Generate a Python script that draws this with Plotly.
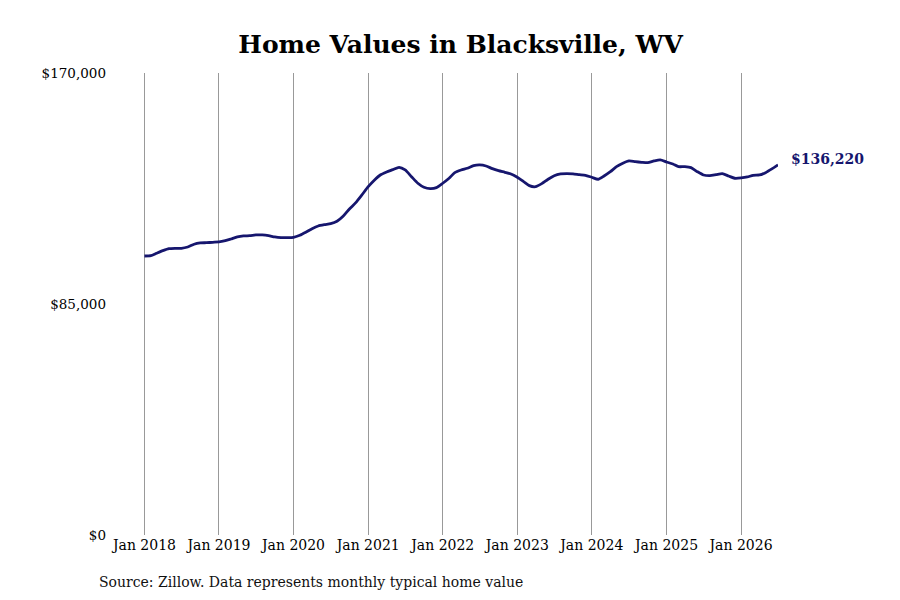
import plotly.graph_objects as go

# monthly typical home values, Jan 2018 - Jul 2026
months = [f"{y}-{m:02d}-01" for y in range(2018, 2027) for m in range(1, 13)][:103]
values = [
    102670, 102780, 103670, 104620, 105360, 105500, 105500, 105980, 106980, 107460, 107560, 107710,
    107820, 108300, 108930, 109660, 110030, 110140, 110400, 110400, 110140, 109660, 109410, 109410,
    109550, 110290, 111390, 112720, 113710, 114190, 114560, 115440, 117390, 119970, 122290, 125120,
    128170, 130640, 132480, 133580, 134430, 135310, 134320, 131850, 129430, 127950, 127440, 127810,
    129430, 131270, 133330, 134320, 134950, 135900, 136160, 135790, 134800, 134060, 133470, 132850,
    131630, 130010, 128540, 128170, 129280, 130900, 132220, 132850, 132960, 132850, 132590, 132370,
    131630, 130900, 132110, 133690, 135530, 136790, 137630, 137370, 137150, 137010, 137630, 138000,
    137260, 136530, 135530, 135530, 135170, 133690, 132480, 132220, 132590, 132960, 132110, 131270,
    131380, 131740, 132370, 132480, 133330, 134700, 136220,
]

tick_dates = [f"{y}-01-01" for y in range(2018, 2027)]
tick_text = [f"Jan {y}" for y in range(2018, 2027)]
y_ticks = [0, 85000, 170000]
y_labels = ["$0", "$85,000", "$170,000"]

navy = "#16166e"
font = "DejaVu Serif"

fig = go.Figure(go.Scatter(
    x=months, y=values, mode="lines",
    line=dict(color=navy, width=2.8, shape="spline", smoothing=0.6),
    hoverinfo="skip",
))

fig.add_annotation(
    x=months[-1], y=values[-1], text=f"<b>${values[-1]:,}</b>",
    xanchor="left", xshift=11, yshift=6, showarrow=False,
    font=dict(family=font, size=14, color=navy),
)
fig.add_annotation(
    x=0, y=0, xref="paper", yref="paper", xanchor="left", yanchor="top",
    xshift=-45, yshift=-37, showarrow=False,
    text="Source: Zillow. Data represents monthly typical home value",
    font=dict(family=font, size=14, color="#111"),
)

# page body adds 8px around the figure, so the figure is 884x584
fig.update_layout(
    width=884, height=584,
    margin=dict(l=134, r=114, t=65, b=57),
    paper_bgcolor="white", plot_bgcolor="white",
    showlegend=False,
    title=dict(text="<b>Home Values in Blacksville, WV</b>", x=0.512, xanchor="center",
               y=0.938, yanchor="middle", font=dict(family=font, size=25, color="black")),
    font=dict(family=font, color="black"),
    xaxis=dict(
        range=["2017-12-20", "2026-07-01"], tickvals=tick_dates, ticktext=tick_text,
        showgrid=True, gridcolor="#999999", gridwidth=1, showline=False, zeroline=False,
        tickfont=dict(family=font, size=14), ticks="",
    ),
    yaxis=dict(
        range=[0, 170000], tickvals=y_ticks, ticktext=y_labels,
        showgrid=False, zeroline=False, showline=False, ticks="",
        ticklabelstandoff=35, tickfont=dict(family=font, size=13.5),
    ),
)

fig.write_html("out.html")
